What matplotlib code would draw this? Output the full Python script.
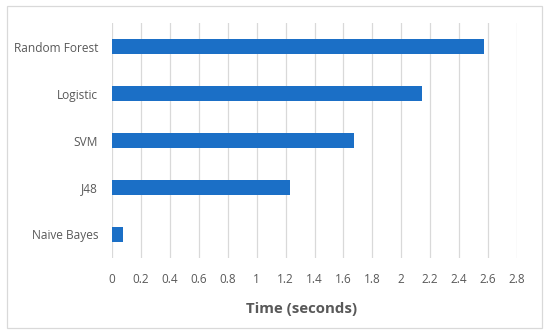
import matplotlib.pyplot as plt

categories = ['Naive Bayes', 'J48', 'SVM', 'Logistic', 'Random Forest']
times = [0.076, 1.231, 1.673, 2.143, 2.572]
xticks = [0, 0.2, 0.4, 0.6, 0.8, 1, 1.2, 1.4, 1.6, 1.8, 2, 2.2, 2.4, 2.6, 2.8]
xtick_labels = ['0', '0.2', '0.4', '0.6', '0.8', '1', '1.2', '1.4', '1.6', '1.8',
                '2', '2.2', '2.4', '2.6', '2.8']

plt.rcParams['font.family'] = ['Open Sans', 'DejaVu Sans']
text_color = '#595959'

fig = plt.figure(figsize=(5.5, 3.36), dpi=100)
ax = fig.add_axes([112 / 550, 1 - 258 / 336, (517 - 112) / 550, 235 / 336])

ax.barh(range(len(categories)), times, height=0.3, color='#1b6fc6', zorder=3)

ax.set_xlim(0, 2.8)
ax.set_ylim(-0.5, len(categories) - 0.5)
ax.set_xticks(xticks)
ax.set_xticklabels(xtick_labels, fontsize=8.5, color=text_color)
ax.set_yticks(range(len(categories)))
ax.set_yticklabels(categories, fontsize=8.6, color=text_color)
ax.tick_params(axis='both', length=0)
ax.tick_params(axis='x', pad=11)
ax.tick_params(axis='y', pad=10)
ax.grid(axis='x', color='#d9d9d9', linewidth=0.9, zorder=0)
for s in ax.spines.values():
    s.set_visible(False)

ax.set_xlabel('Time (seconds)', fontsize=10.8, fontweight='bold', color=text_color,
              labelpad=11, x=0.467)

# outer chart border
fig.patches.append(plt.Rectangle((7 / 550, 1 - 328 / 336), 535 / 550, 322 / 336,
                                 transform=fig.transFigure, fill=False,
                                 edgecolor='#d9d9d9', linewidth=0.9))

fig.savefig('out.png', dpi=100)
